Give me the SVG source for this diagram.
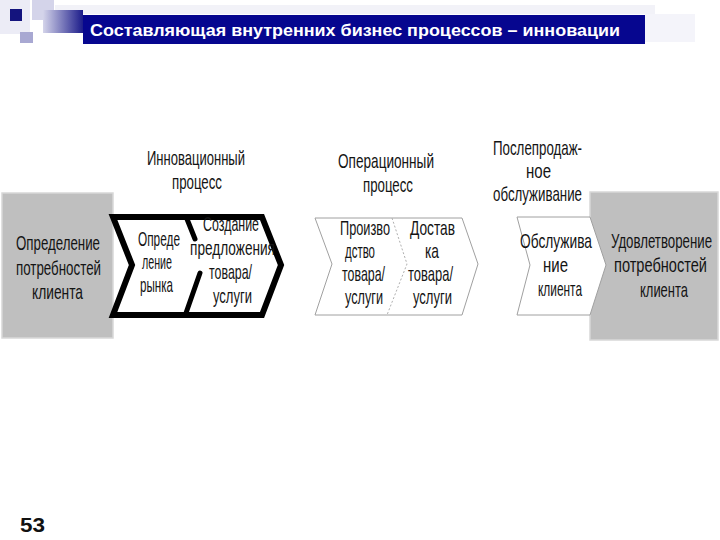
<svg xmlns="http://www.w3.org/2000/svg" width="720" height="540" viewBox="0 0 720 540">
<style>
.t{font-family:"Liberation Sans",Arial,sans-serif;font-size:21px;fill:#141414;}
.ttl{font-family:"Liberation Sans",Arial,sans-serif;font-size:17px;font-weight:bold;fill:#ffffff;}
.gray{fill:#bfbfbf;stroke:#d8d8d8;stroke-width:1.5;}
.thick{fill:#ffffff;stroke:#000000;stroke-width:6;stroke-linejoin:miter;}
.thin{fill:#ffffff;stroke:#a0a0a0;stroke-width:1;}
.div{fill:none;stroke:#000;stroke-width:5;stroke-linecap:round;}
.dot{fill:none;stroke:#b0b0b0;stroke-width:1;stroke-dasharray:2 2;}
</style>
<defs>
<linearGradient id="band" x1="0" y1="0" x2="1" y2="0">
<stop offset="0" stop-color="#d4d4ea"/>
<stop offset="1" stop-color="#1c1c8a"/>
</linearGradient>
</defs>
<rect width="720" height="540" fill="#ffffff"/>
<g id="decoration">
<rect x="0" y="0" width="30" height="34" fill="#ececf6"/>
<rect x="55" y="5" width="600" height="9" fill="#f2f2f8"/>
<rect x="32" y="0" width="22" height="20" fill="#d4d4ea"/>
<rect x="43" y="10" width="40" height="23" fill="url(#band)"/>
<rect x="20" y="32" width="13" height="11" fill="#a8a8d2"/>
<rect x="10" y="9" width="12" height="12" fill="#14147e"/>
<rect x="645" y="14" width="50" height="28" fill="#f4f4fa"/>
</g>
<g id="title">
<rect x="83" y="15" width="562" height="29" fill="#06068f"/>
<text class="ttl" x="90" y="36" textLength="530" lengthAdjust="spacingAndGlyphs">Составляющая внутренних бизнес процессов – инновации</text>
</g>
<g id="headers">
<text class="t" x="147" y="165" textLength="98" lengthAdjust="spacingAndGlyphs">Инновационный</text>
<text class="t" x="172" y="189" textLength="50" lengthAdjust="spacingAndGlyphs">процесс</text>
<text class="t" x="338" y="168" textLength="96" lengthAdjust="spacingAndGlyphs">Операционный</text>
<text class="t" x="363" y="192" textLength="50" lengthAdjust="spacingAndGlyphs">процесс</text>
<text class="t" x="493" y="155" textLength="89" lengthAdjust="spacingAndGlyphs">Послепродаж-</text>
<text class="t" x="526" y="178" textLength="25" lengthAdjust="spacingAndGlyphs">ное</text>
<text class="t" x="493" y="201" textLength="89" lengthAdjust="spacingAndGlyphs">обслуживание</text>
</g>
<g id="node-left">
<rect class="gray" x="2" y="193" width="111" height="145"/>
<text class="t" x="16" y="250" textLength="84" lengthAdjust="spacingAndGlyphs">Определение</text>
<text class="t" x="16" y="275" textLength="85" lengthAdjust="spacingAndGlyphs">потребностей</text>
<text class="t" x="32" y="299" textLength="51" lengthAdjust="spacingAndGlyphs">клиента</text>
</g>
<g id="node-right">
<rect class="gray" x="590" y="192" width="128" height="148"/>
</g>
<g id="node-innovation">
<polygon class="thick" points="113,217 262,217 281,265 262,315 113,315 132,265"/>
<line class="div" x1="187" y1="219" x2="195" y2="239"/>
<line class="div" x1="200" y1="273" x2="186" y2="313"/>
<text class="t" x="138" y="246" textLength="42" lengthAdjust="spacingAndGlyphs">Опреде</text>
<text class="t" x="142" y="269" textLength="30" lengthAdjust="spacingAndGlyphs">ление</text>
<text class="t" x="140" y="292" textLength="33" lengthAdjust="spacingAndGlyphs">рынка</text>
<text class="t" x="203" y="231" textLength="56" lengthAdjust="spacingAndGlyphs">Создание</text>
<text class="t" x="190" y="255" textLength="85" lengthAdjust="spacingAndGlyphs">предложения</text>
<text class="t" x="209" y="279" textLength="43" lengthAdjust="spacingAndGlyphs">товара/</text>
<text class="t" x="213" y="303" textLength="39" lengthAdjust="spacingAndGlyphs">услуги</text>
</g>
<g id="node-operational">
<polygon class="thin" points="315,218 462,218 478,264 462,315 315,315 332,264"/>
<polyline class="dot" points="392,218 407,264 387,315"/>
<text class="t" x="340" y="235" textLength="50" lengthAdjust="spacingAndGlyphs">Произво</text>
<text class="t" x="345" y="258" textLength="30" lengthAdjust="spacingAndGlyphs">дство</text>
<text class="t" x="342" y="281" textLength="43" lengthAdjust="spacingAndGlyphs">товара/</text>
<text class="t" x="345" y="304" textLength="38" lengthAdjust="spacingAndGlyphs">услуги</text>
<text class="t" x="410" y="235" textLength="45" lengthAdjust="spacingAndGlyphs">Достав</text>
<text class="t" x="425" y="258" textLength="14" lengthAdjust="spacingAndGlyphs">ка</text>
<text class="t" x="408" y="281" textLength="45" lengthAdjust="spacingAndGlyphs">товара/</text>
<text class="t" x="413" y="304" textLength="39" lengthAdjust="spacingAndGlyphs">услуги</text>
</g>
<g id="node-service">
<polygon class="thin" points="517,217 590,217 606,265 590,315 517,315 530,265"/>
<text class="t" x="520" y="248" textLength="72" lengthAdjust="spacingAndGlyphs">Обслужива</text>
<text class="t" x="543" y="272" textLength="25" lengthAdjust="spacingAndGlyphs">ние</text>
<text class="t" x="538" y="296" textLength="44" lengthAdjust="spacingAndGlyphs">клиента</text>
</g>
<g id="node-right-text">
<text class="t" x="611" y="248" textLength="101" lengthAdjust="spacingAndGlyphs">Удовлетворение</text>
<text class="t" x="614" y="272" textLength="93" lengthAdjust="spacingAndGlyphs">потребностей</text>
<text class="t" x="640" y="297" textLength="48" lengthAdjust="spacingAndGlyphs">клиента</text>
</g>
<g id="connectors"></g>
<g id="page-number">
<text x="20" y="532" font-family="Liberation Sans, Arial, sans-serif" font-size="20" font-weight="bold" fill="#111" textLength="25" lengthAdjust="spacingAndGlyphs">53</text>
</g>
</svg>
